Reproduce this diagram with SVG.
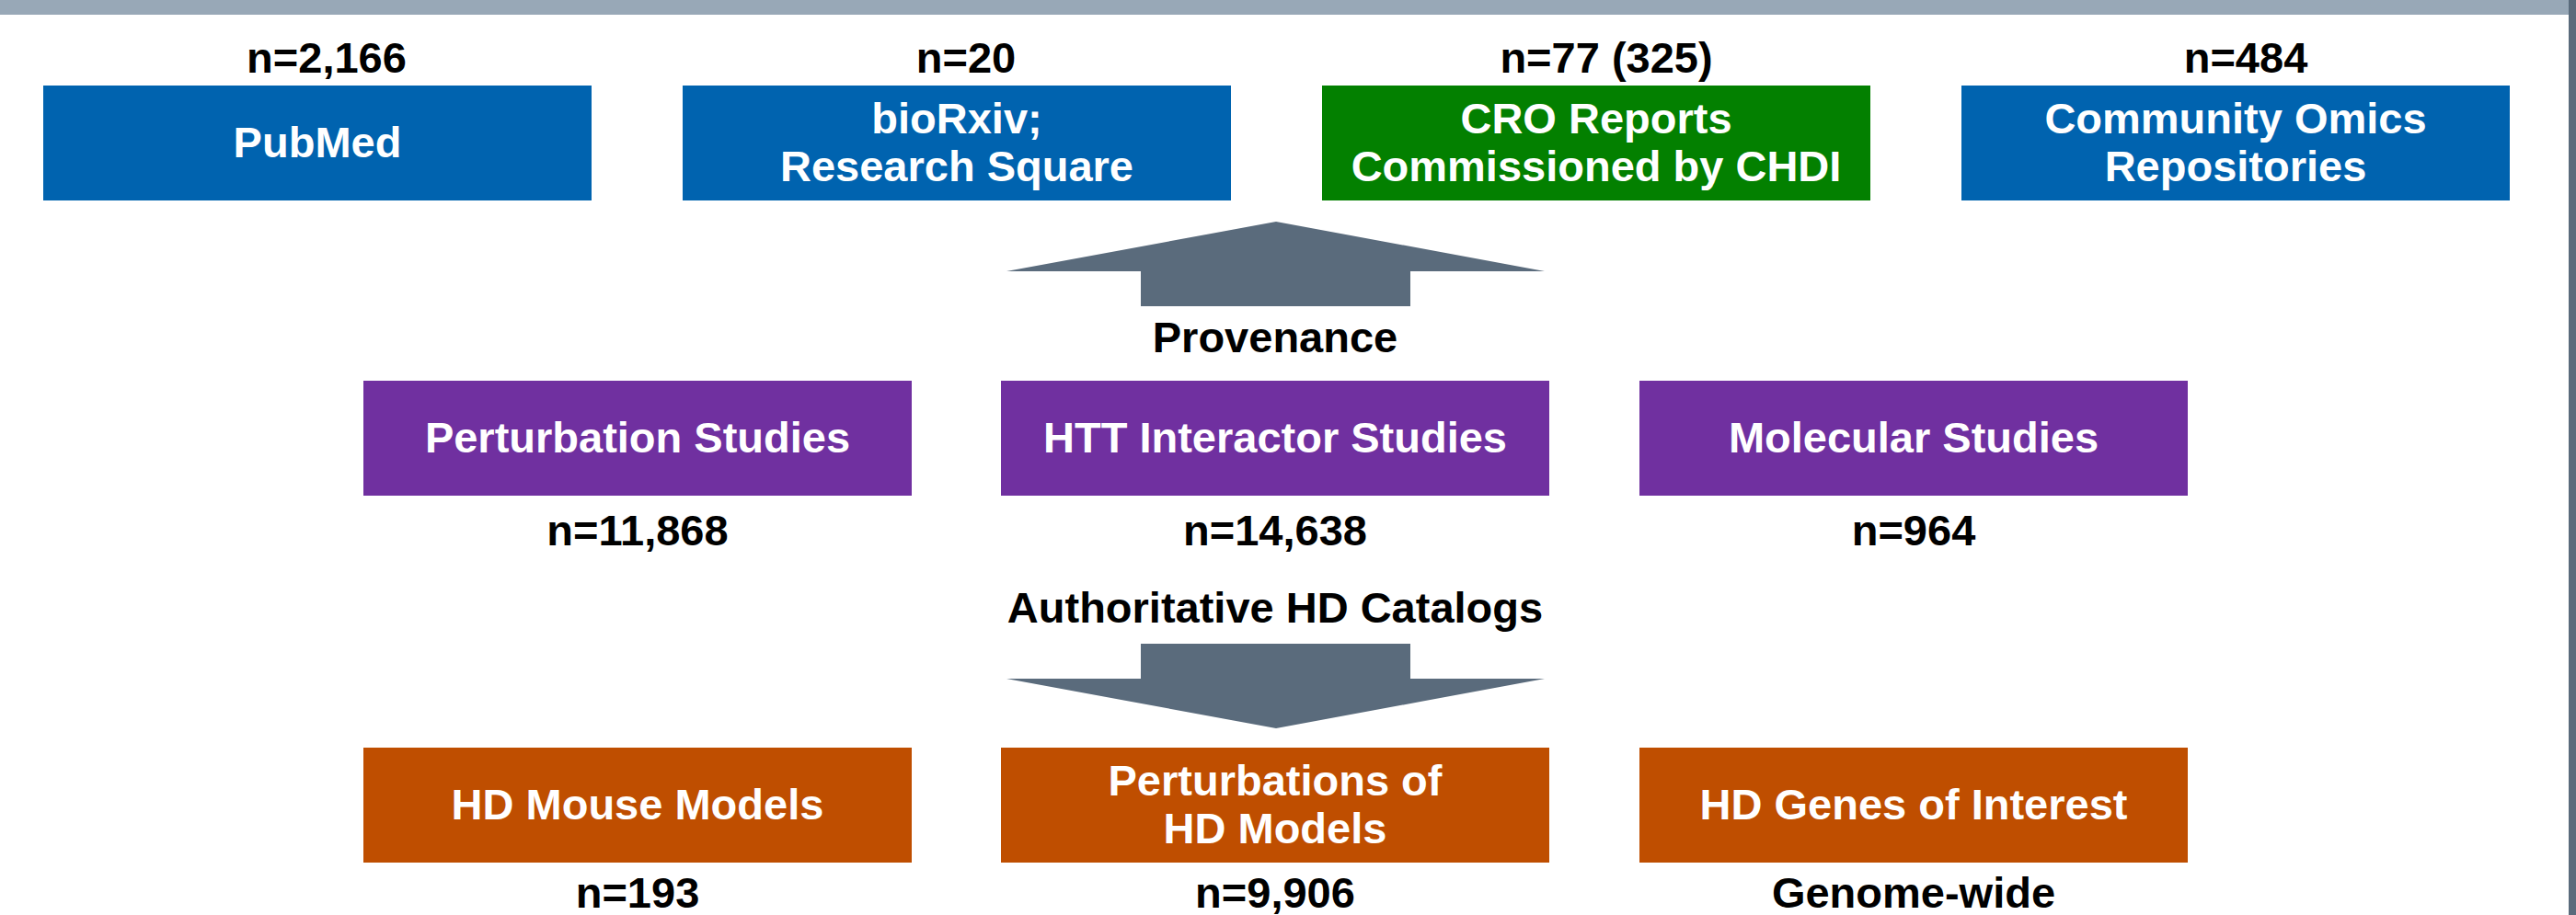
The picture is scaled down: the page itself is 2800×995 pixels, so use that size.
<svg xmlns="http://www.w3.org/2000/svg" width="2800" height="995" viewBox="0 0 2800 995">
<style>
.t{font-family:"Liberation Sans",Arial,sans-serif;font-weight:bold;font-size:47px;text-anchor:middle}
.w{fill:#ffffff}
.k{fill:#000000}
.blue{fill:#0063AF}
.green{fill:#038000}
.purple{fill:#7030A0}
.orange{fill:#BF4E00}
.arrow{fill:#5A6B7C}
</style>
<rect x="0" y="0" width="2800" height="995" fill="#ffffff"/>
<rect x="0" y="0" width="2792" height="16" fill="#98A8B7"/>
<rect x="2792" y="0" width="8" height="995" fill="#5A6B7C"/>

<g id="pubmed">
<text class="t k" x="355" y="79">n=2,166</text>
<rect class="blue" x="47" y="93" width="596" height="125"/>
<text class="t w" x="345" y="171">PubMed</text>
</g>
<g id="biorxiv">
<text class="t k" x="1050" y="79">n=20</text>
<rect class="blue" x="742" y="93" width="596" height="125"/>
<text class="t w" x="1040" y="145">bioRxiv;</text>
<text class="t w" x="1040" y="197">Research Square</text>
</g>
<g id="cro">
<text class="t k" x="1746" y="79">n=77 (325)</text>
<rect class="green" x="1437" y="93" width="596" height="125"/>
<text class="t w" x="1735" y="145">CRO Reports</text>
<text class="t w" x="1735" y="197">Commissioned by CHDI</text>
</g>
<g id="omics">
<text class="t k" x="2441" y="79">n=484</text>
<rect class="blue" x="2132" y="93" width="596" height="125"/>
<text class="t w" x="2430" y="145">Community Omics</text>
<text class="t w" x="2430" y="197">Repositories</text>
</g>

<g id="connectors">
<polygon class="arrow" points="1387,241 1679,295 1533,295 1533,333 1240,333 1240,295 1094,295"/>
<text class="t k" x="1386" y="383">Provenance</text>
<text class="t k" x="1386" y="677">Authoritative HD Catalogs</text>
<polygon class="arrow" points="1240,700 1533,700 1533,738 1679,738 1387,792 1094,738 1240,738"/>
</g>

<g id="perturbation-studies">
<rect class="purple" x="395" y="414" width="596" height="125"/>
<text class="t w" x="693" y="492">Perturbation Studies</text>
<text class="t k" x="693" y="593">n=11,868</text>
</g>
<g id="htt-interactor-studies">
<rect class="purple" x="1088" y="414" width="596" height="125"/>
<text class="t w" x="1386" y="492">HTT Interactor Studies</text>
<text class="t k" x="1386" y="593">n=14,638</text>
</g>
<g id="molecular-studies">
<rect class="purple" x="1782" y="414" width="596" height="125"/>
<text class="t w" x="2080" y="492">Molecular Studies</text>
<text class="t k" x="2080" y="593">n=964</text>
</g>

<g id="hd-mouse-models">
<rect class="orange" x="395" y="813" width="596" height="125"/>
<text class="t w" x="693" y="891">HD Mouse Models</text>
<text class="t k" x="693" y="987">n=193</text>
</g>
<g id="perturbations-of-hd-models">
<rect class="orange" x="1088" y="813" width="596" height="125"/>
<text class="t w" x="1386" y="865">Perturbations of</text>
<text class="t w" x="1386" y="917">HD Models</text>
<text class="t k" x="1386" y="987">n=9,906</text>
</g>
<g id="hd-genes-of-interest">
<rect class="orange" x="1782" y="813" width="596" height="125"/>
<text class="t w" x="2080" y="891">HD Genes of Interest</text>
<text class="t k" x="2080" y="987">Genome-wide</text>
</g>
</svg>
